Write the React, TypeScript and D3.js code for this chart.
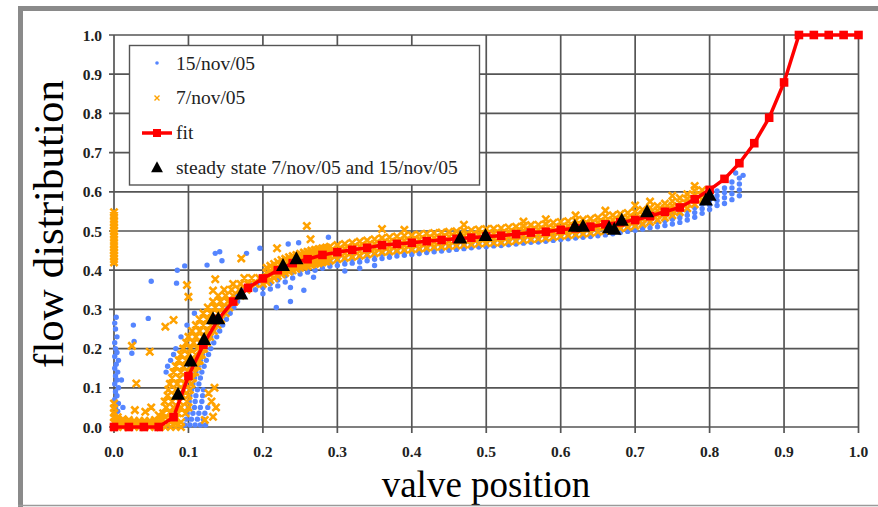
import React from "react";
import * as d3 from "d3";

const W = 878;
const H = 507;

const xTicks = [0, 0.1, 0.2, 0.3, 0.4, 0.5, 0.6, 0.7, 0.8, 0.9, 1.0];
const yTicks = [0, 0.1, 0.2, 0.3, 0.4, 0.5, 0.6, 0.7, 0.8, 0.9, 1.0];

const legendLabels = ["15/nov/05", "7/nov/05", "fit", "steady state 7/nov/05 and 15/nov/05"];

// fit curve
const fitX = [0, 0.02, 0.04, 0.06, 0.08, 0.1, 0.12, 0.14, 0.16, 0.18, 0.2, 0.22, 0.24, 0.26, 0.28, 0.3, 0.32, 0.34, 0.36, 0.38, 0.4, 0.42, 0.44, 0.46, 0.48, 0.5, 0.52, 0.54, 0.56, 0.58, 0.6, 0.62, 0.64, 0.66, 0.68, 0.7, 0.72, 0.74, 0.76, 0.78, 0.8, 0.82, 0.84, 0.86, 0.88, 0.9, 0.92, 0.94, 0.96, 0.98, 1.0];
const fitY = [0, 0, 0, 0, 0.025, 0.13, 0.21, 0.275, 0.32, 0.355, 0.379, 0.4, 0.418, 0.428, 0.439, 0.446, 0.452, 0.457, 0.464, 0.467, 0.47, 0.474, 0.477, 0.48, 0.483, 0.486, 0.488, 0.492, 0.496, 0.498, 0.503, 0.507, 0.511, 0.517, 0.522, 0.528, 0.538, 0.549, 0.56, 0.581, 0.605, 0.633, 0.673, 0.724, 0.789, 0.879, 1, 1, 1, 1, 1];

// steady state points
const steadyX = [0.086, 0.103, 0.121, 0.133, 0.14, 0.171, 0.227, 0.245, 0.465, 0.499, 0.619, 0.63, 0.665, 0.672, 0.682, 0.716, 0.795, 0.8];
const steadyY = [0.082, 0.167, 0.222, 0.275, 0.275, 0.338, 0.411, 0.428, 0.481, 0.487, 0.511, 0.511, 0.507, 0.503, 0.526, 0.548, 0.578, 0.59];

// 15/nov/05 (blue): columns [x, ys]
const blueColumns: [number, number[]][] = [
  [0.2, [0.34, 0.355, 0.37]], [0.21, [0.352, 0.366]], [0.22, [0.36, 0.375, 0.39]], [0.23, [0.37, 0.385]],
  [0.24, [0.38, 0.395, 0.405]], [0.25, [0.39, 0.402]], [0.26, [0.395, 0.408, 0.418]], [0.27, [0.4, 0.413]],
  [0.28, [0.405, 0.418, 0.428]], [0.29, [0.41, 0.422]], [0.3, [0.412, 0.425, 0.435]], [0.31, [0.416, 0.428]],
  [0.32, [0.418, 0.43, 0.44]], [0.33, [0.421, 0.433]], [0.34, [0.424, 0.436, 0.446]], [0.35, [0.428, 0.44]],
  [0.36, [0.43, 0.442]], [0.37, [0.433, 0.445]], [0.38, [0.436, 0.447]], [0.39, [0.438, 0.449]],
  [0.4, [0.44, 0.451]], [0.41, [0.442, 0.453]], [0.42, [0.445, 0.455]], [0.43, [0.447, 0.457]],
  [0.44, [0.449, 0.459]], [0.45, [0.451, 0.461]], [0.46, [0.453, 0.463]], [0.47, [0.455, 0.465]],
  [0.48, [0.457, 0.467]], [0.49, [0.459, 0.469]], [0.5, [0.46, 0.47]], [0.51, [0.462, 0.472]],
  [0.52, [0.463, 0.473]], [0.53, [0.465, 0.475]], [0.54, [0.467, 0.477]], [0.55, [0.469, 0.479]],
  [0.56, [0.471, 0.481]], [0.57, [0.472, 0.483]], [0.58, [0.474, 0.485]], [0.59, [0.476, 0.487]],
  [0.6, [0.478, 0.489]], [0.61, [0.48, 0.491]], [0.62, [0.482, 0.493]], [0.63, [0.484, 0.495]],
  [0.64, [0.486, 0.497]], [0.65, [0.488, 0.5]], [0.66, [0.49, 0.502]], [0.67, [0.493, 0.505]],
  [0.68, [0.496, 0.508]], [0.69, [0.499, 0.511]], [0.7, [0.502, 0.514]], [0.71, [0.505, 0.517]],
  [0.72, [0.508, 0.52]], [0.73, [0.511, 0.523]], [0.74, [0.514, 0.526, 0.538]], [0.75, [0.518, 0.53, 0.542]],
  [0.76, [0.522, 0.534, 0.546]], [0.77, [0.528, 0.54, 0.552]], [0.78, [0.535, 0.547, 0.559]], [0.79, [0.545, 0.557, 0.569]],
  [0.8, [0.555, 0.567, 0.579, 0.59]], [0.81, [0.565, 0.578, 0.59, 0.602]], [0.82, [0.57, 0.585, 0.598, 0.61]],
  [0.83, [0.58, 0.595, 0.61, 0.625]], [0.84, [0.59, 0.605, 0.62, 0.635]],
];
// blue rising band: rows [y, xs]
const blueRows: [number, number[]][] = [
  [0.005, [0.095, 0.102, 0.109, 0.116, 0.123]], [0.02, [0.097, 0.104, 0.112, 0.12]], [0.035, [0.098, 0.106, 0.114, 0.122]],
  [0.05, [0.1, 0.108, 0.116, 0.126]], [0.065, [0.101, 0.109, 0.118]], [0.08, [0.102, 0.11, 0.119]],
  [0.095, [0.104, 0.112, 0.12]], [0.11, [0.106, 0.114]], [0.125, [0.108, 0.116]],
  [0.14, [0.07, 0.11, 0.118]], [0.155, [0.072, 0.113, 0.121]], [0.17, [0.076, 0.116, 0.124]],
  [0.185, [0.08, 0.119, 0.127]], [0.2, [0.083, 0.122, 0.13]], [0.215, [0.126, 0.134]],
  [0.23, [0.09, 0.13, 0.138]], [0.245, [0.134, 0.142]], [0.26, [0.098, 0.138, 0.146]],
  [0.275, [0.143, 0.151]], [0.29, [0.108, 0.148, 0.156]], [0.305, [0.153, 0.161]],
  [0.32, [0.158, 0.166]], [0.335, [0.165, 0.173]], [0.35, [0.172, 0.18, 0.19]], [0.365, [0.182, 0.192]],
];
// blue isolated points [x, y]
const bluePoints: [number, number][] = [
  [0.001, 0.01], [0.004, 0.02], [0.001, 0.03], [0.005, 0.04], [0.002, 0.05], [0.006, 0.06], [0.001, 0.07],
  [0.004, 0.08], [0.002, 0.09], [0.006, 0.1], [0.001, 0.11], [0.004, 0.12], [0.002, 0.13], [0.005, 0.14],
  [0.001, 0.15], [0.003, 0.16], [0.006, 0.17], [0.001, 0.18], [0.004, 0.19], [0.002, 0.2], [0.001, 0.215],
  [0.004, 0.23], [0.002, 0.25], [0.001, 0.265], [0.003, 0.28], [0.012, 0.05], [0.01, 0.12], [0.015, 0.02],
  [0.05, 0.372], [0.084, 0.367], [0.085, 0.4], [0.046, 0.277], [0.026, 0.26], [0.027, 0.218], [0.024, 0.188],
  [0.136, 0.443], [0.142, 0.447], [0.145, 0.424], [0.125, 0.413], [0.095, 0.411], [0.178, 0.443], [0.196, 0.456],
  [0.234, 0.467], [0.248, 0.47], [0.288, 0.484], [0.255, 0.349], [0.237, 0.32], [0.218, 0.305], [0.268, 0.382],
  [0.237, 0.356], [0.31, 0.398], [0.33, 0.405], [0.35, 0.412], [0.845, 0.642], [0.835, 0.648],
];

// 7/nov/05 (orange): columns [x, ys]
const orangeColumns: [number, number[]][] = [
  [0.0, [0.0, 0.012, 0.024, 0.036, 0.048, 0.06]], [0.005, [0.0, 0.012, 0.025]], [0.012, [0.0, 0.01, 0.02]],
  [0.02, [0.0, 0.01, 0.018]], [0.027, [0.0, 0.008, 0.016]], [0.034, [0.0, 0.008, 0.016]], [0.041, [0.0, 0.008, 0.016]],
  [0.048, [0.0, 0.008, 0.016]], [0.055, [0.0, 0.008, 0.018]], [0.062, [0.0, 0.01, 0.02]], [0.069, [0.0, 0.012, 0.025]],
  [0.076, [0.0, 0.012, 0.025]], [0.083, [0.0, 0.01, 0.022]], [0.09, [0.0, 0.012]],
  [0.0, [0.42, 0.428, 0.436, 0.444, 0.452, 0.46, 0.468, 0.476, 0.484, 0.492, 0.5, 0.508, 0.516, 0.524, 0.532, 0.54, 0.548]],
  [0.205, [0.37, 0.382, 0.394, 0.406]], [0.215, [0.38, 0.392, 0.404, 0.416]], [0.225, [0.39, 0.402, 0.414, 0.426]],
  [0.235, [0.397, 0.409, 0.421, 0.433]], [0.245, [0.403, 0.415, 0.427, 0.439]], [0.255, [0.409, 0.421, 0.433, 0.445]],
  [0.265, [0.414, 0.426, 0.438, 0.45]], [0.275, [0.418, 0.43, 0.442, 0.454]], [0.285, [0.422, 0.434, 0.446, 0.458]],
  [0.21, [0.375, 0.387, 0.399, 0.411]], [0.22, [0.385, 0.397, 0.409, 0.421]], [0.23, [0.393, 0.405, 0.417, 0.429]],
  [0.24, [0.4, 0.412, 0.424, 0.436]], [0.25, [0.406, 0.418, 0.43, 0.442]], [0.26, [0.411, 0.423, 0.435, 0.447]],
  [0.27, [0.416, 0.428, 0.44, 0.452]], [0.28, [0.42, 0.432, 0.444, 0.456]], [0.29, [0.424, 0.436, 0.448, 0.46]],
  [0.3, [0.428, 0.44, 0.452, 0.464]], [0.31, [0.431, 0.443, 0.455, 0.467]], [0.32, [0.434, 0.446, 0.458, 0.47]],
  [0.33, [0.437, 0.449, 0.461, 0.473]], [0.34, [0.44, 0.452, 0.464, 0.476]], [0.35, [0.443, 0.455, 0.467, 0.479]],
  [0.36, [0.446, 0.458, 0.47, 0.482]], [0.37, [0.448, 0.46, 0.472, 0.484]], [0.38, [0.45, 0.462, 0.474, 0.486]],
  [0.39, [0.452, 0.464, 0.476, 0.488]], [0.4, [0.453, 0.465, 0.477, 0.489]], [0.41, [0.455, 0.467, 0.479, 0.491]],
  [0.42, [0.457, 0.469, 0.481, 0.493]], [0.43, [0.459, 0.471, 0.483, 0.495]], [0.44, [0.46, 0.472, 0.484, 0.496]],
  [0.45, [0.462, 0.474, 0.486, 0.498]], [0.46, [0.463, 0.475, 0.487, 0.499]], [0.47, [0.465, 0.477, 0.489, 0.501]],
  [0.48, [0.466, 0.478, 0.49, 0.502]], [0.49, [0.468, 0.48, 0.492, 0.504]], [0.5, [0.469, 0.481, 0.493, 0.505]],
  [0.51, [0.47, 0.482, 0.494, 0.506]], [0.52, [0.471, 0.483, 0.495, 0.507]], [0.53, [0.473, 0.485, 0.497, 0.509]],
  [0.54, [0.475, 0.487, 0.499, 0.511]], [0.55, [0.477, 0.489, 0.501, 0.513]], [0.56, [0.479, 0.491, 0.503, 0.515]],
  [0.57, [0.48, 0.492, 0.504, 0.516]], [0.58, [0.482, 0.494, 0.506, 0.518]], [0.59, [0.485, 0.497, 0.509, 0.521]],
  [0.6, [0.487, 0.499, 0.511, 0.523]], [0.61, [0.489, 0.501, 0.513, 0.525]], [0.62, [0.491, 0.503, 0.515, 0.527]],
  [0.63, [0.493, 0.505, 0.517, 0.529]], [0.64, [0.495, 0.507, 0.519, 0.531]], [0.65, [0.498, 0.51, 0.522, 0.534]],
  [0.66, [0.501, 0.513, 0.525, 0.537]], [0.67, [0.504, 0.516, 0.528, 0.54]], [0.68, [0.507, 0.519, 0.531, 0.543]],
  [0.69, [0.51, 0.522, 0.534, 0.546]], [0.7, [0.513, 0.525, 0.537, 0.549]], [0.71, [0.518, 0.53, 0.542, 0.554]],
  [0.72, [0.523, 0.535, 0.547, 0.559]], [0.73, [0.528, 0.54, 0.552, 0.564]], [0.74, [0.534, 0.546, 0.558, 0.57]],
  [0.75, [0.54, 0.552, 0.564, 0.576]], [0.76, [0.548, 0.56, 0.572, 0.584]], [0.77, [0.558, 0.57, 0.582, 0.594]],
  [0.78, [0.568, 0.58, 0.592, 0.604]], [0.79, [0.58, 0.592, 0.604]], [0.8, [0.592, 0.604]],
];
// orange rising band: rows [y, xs]
const orangeRows: [number, number[]][] = [
  [0.035, [0.066, 0.076, 0.086, 0.096]], [0.05, [0.07, 0.08, 0.09, 0.1]], [0.065, [0.068, 0.078, 0.088, 0.098]],
  [0.08, [0.072, 0.082, 0.092, 0.1]], [0.095, [0.073, 0.083, 0.093, 0.102]], [0.11, [0.075, 0.085, 0.095, 0.104]],
  [0.125, [0.078, 0.088, 0.098, 0.106]], [0.14, [0.08, 0.09, 0.1, 0.109]], [0.155, [0.083, 0.093, 0.103, 0.112]],
  [0.17, [0.087, 0.097, 0.107, 0.115]], [0.185, [0.09, 0.1, 0.11, 0.118]], [0.2, [0.093, 0.103, 0.112, 0.121]],
  [0.215, [0.097, 0.107, 0.116, 0.125]], [0.23, [0.1, 0.11, 0.12, 0.129]], [0.245, [0.105, 0.115, 0.125, 0.134]],
  [0.26, [0.11, 0.12, 0.13, 0.139]], [0.275, [0.115, 0.125, 0.135, 0.144]], [0.29, [0.12, 0.13, 0.14, 0.15]],
  [0.305, [0.126, 0.136, 0.146, 0.155]], [0.32, [0.133, 0.143, 0.153, 0.162]], [0.335, [0.14, 0.15, 0.16, 0.17]],
  [0.35, [0.148, 0.158, 0.168, 0.178]], [0.365, [0.16, 0.17, 0.18, 0.19, 0.2]], [0.38, [0.175, 0.185, 0.195, 0.205]],
];
// orange isolated points [x, y]
const orangePoints: [number, number][] = [
  [0.08, 0.273], [0.069, 0.256], [0.048, 0.192], [0.03, 0.111], [0.024, 0.207], [0.136, 0.377], [0.133, 0.348],
  [0.098, 0.362], [0.1, 0.332], [0.028, 0.043], [0.042, 0.039], [0.127, 0.086], [0.131, 0.065], [0.122, 0.018],
  [0.133, 0.026], [0.137, 0.05], [0.135, 0.1], [0.259, 0.513], [0.264, 0.479], [0.219, 0.456], [0.171, 0.43],
  [0.36, 0.505], [0.39, 0.503], [0.47, 0.516], [0.55, 0.524], [0.58, 0.53], [0.62, 0.54], [0.66, 0.552],
  [0.7, 0.565], [0.72, 0.575], [0.75, 0.59], [0.78, 0.615], [0.06, 0.03], [0.05, 0.05],
];

const x = d3.scaleLinear().domain([0, 1]).range([114, 858.5]);
const y = d3.scaleLinear().domain([0, 1]).range([427, 35]);
const fmt = d3.format(".1f");

function expand(cols: [number, number[]][], rows: [number, number[]][], pts: [number, number][]) {
  return [
    ...cols.flatMap(([cx, ys]) => ys.map((cy) => [cx, cy] as [number, number])),
    ...rows.flatMap(([cy, xs]) => xs.map((cx) => [cx, cy] as [number, number])),
    ...pts,
  ];
}

const BLUE = "#5585ff";
const ORANGE = "#ffa200";
const RED = "#ff0000";
const GRID = "#555";
const SERIF = "'Liberation Serif', 'Times New Roman', serif";

export default function App() {
  const blue = expand(blueColumns, blueRows, bluePoints);
  const orange = expand(orangeColumns, orangeRows, orangePoints);
  const fit = fitX.map((v, i) => [v, fitY[i]] as [number, number]);
  const line = d3.line<[number, number]>().x((d) => x(d[0])).y((d) => y(d[1]));

  const s = 3.6;
  const orangePath = orange
    .map(([a, b]) => {
      const cx = x(a), cy = y(b);
      return `M${cx - s},${cy - s}L${cx + s},${cy + s}M${cx - s},${cy + s}L${cx + s},${cy - s}`;
    })
    .join("");

  const tri = (cx: number, cy: number, r = 1) =>
    `M${cx},${cy - 8 * r}L${cx + 7 * r},${cy + 5 * r}L${cx - 7 * r},${cy + 5 * r}Z`;

  return (
    <svg width={W} height={H} style={{ position: "absolute", left: 0, top: 0, background: "#fff" }}>
      {/* grid */}
      <g stroke={GRID} strokeWidth={1.7}>
        {xTicks.map((t) => (
          <line key={"gx" + t} x1={x(t)} x2={x(t)} y1={y(1)} y2={y(0) + 6} />
        ))}
        {yTicks.map((t) => (
          <line key={"gy" + t} x1={x(0) - 5} x2={x(1)} y1={y(t)} y2={y(t)} />
        ))}
      </g>
      {/* tick labels */}
      <g fontFamily={SERIF} fontWeight="bold" fontSize={15.5} fill="#222">
        {xTicks.map((t) => (
          <text key={"tx" + t} x={x(t)} y={457} textAnchor="middle">{fmt(t)}</text>
        ))}
        {yTicks.map((t) => (
          <text key={"ty" + t} x={102} y={y(t) + 5.5} textAnchor="end">{fmt(t)}</text>
        ))}
      </g>
      {/* series 15/nov/05 */}
      <g fill={BLUE}>
        {blue.map(([a, b], i) => (
          <circle key={"b" + i} cx={x(a)} cy={y(b)} r={2.7} />
        ))}
      </g>
      {/* series 7/nov/05 */}
      <path d={orangePath} stroke={ORANGE} strokeWidth={2.6} fill="none" />
      {/* fit */}
      <path d={line(fit) || ""} stroke={RED} strokeWidth={3.5} fill="none" />
      <g fill={RED}>
        {fit.map(([a, b], i) => (
          <rect key={"f" + i} x={x(a) - 4.3} y={y(b) - 4.3} width={8.6} height={8.6} />
        ))}
      </g>
      {/* steady state */}
      <g fill="#000">
        {steadyX.map((v, i) => (
          <path key={"s" + i} d={tri(x(v), y(steadyY[i]))} />
        ))}
      </g>
      {/* legend */}
      <rect x={129.5} y={45.5} width={350} height={139.5} fill="#fff" stroke="#555" strokeWidth={1.4} />
      <circle cx={157} cy={63} r={1.8} fill={BLUE} />
      <path d="M154.5,95.5L159.5,100.5M154.5,100.5L159.5,95.5" stroke={ORANGE} strokeWidth={1.4} />
      <line x1={142} x2={172} y1={133} y2={133} stroke={RED} strokeWidth={3.5} />
      <rect x={153} y={129} width={8} height={8} fill={RED} />
      <path d={tri(157, 168, 0.85)} fill="#000" />
      <g fontFamily={SERIF} fontSize={19.5} fill="#222">
        {legendLabels.map((l, i) => (
          <text key={l} x={176} y={[70, 104, 139, 174][i]}>{l}</text>
        ))}
      </g>
      {/* axis titles */}
      <text x={486} y={497} textAnchor="middle" fontFamily={SERIF} fontSize={37} fill="#000">valve position</text>
      <text transform="translate(63,224) rotate(-90)" textAnchor="middle" fontFamily={SERIF} fontSize={43} fill="#000">flow distribution</text>
      {/* frame */}
      <line x1={20.5} x2={20.5} y1={6} y2={507} stroke="#8a8a8a" strokeWidth={5} />
      <line x1={18} x2={878} y1={8.5} y2={8.5} stroke="#8a8a8a" strokeWidth={5} />
      <line x1={18} x2={878} y1={505.5} y2={505.5} stroke="#9a9a9a" strokeWidth={1.5} />
    </svg>
  );
}
